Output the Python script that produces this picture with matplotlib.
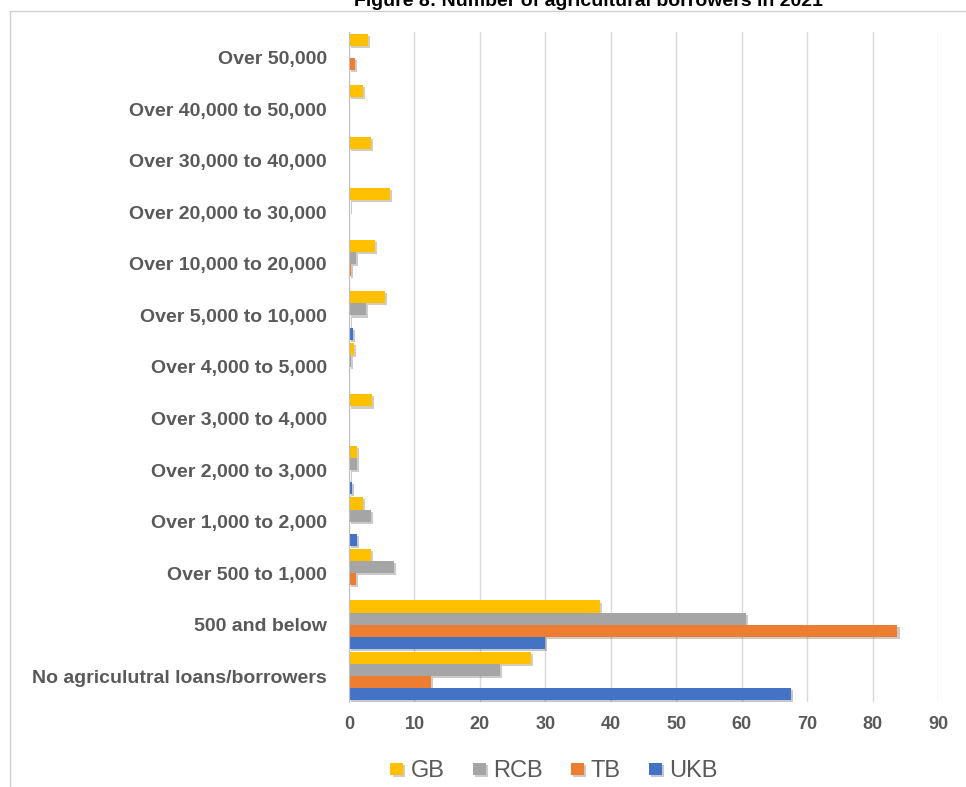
import numpy as np
import matplotlib
matplotlib.use("Agg")
import matplotlib.pyplot as plt
import matplotlib.patheffects as pe
from matplotlib.patches import Rectangle

plt.rcParams['font.family'] = ['Liberation Sans', 'DejaVu Sans']

# categories top to bottom as in the chart
categories = ["Over 50,000", "Over 40,000 to 50,000", "Over 30,000 to 40,000",
              "Over 20,000 to 30,000", "Over 10,000 to 20,000", "Over 5,000 to 10,000",
              "Over 4,000 to 5,000", "Over 3,000 to 4,000", "Over 2,000 to 3,000",
              "Over 1,000 to 2,000", "Over 500 to 1,000", "500 and below",
              "No agriculutral loans/borrowers"]
gb = [2.9, 2.1, 3.4, 6.2, 4.0, 5.5, 0.8, 3.5, 1.2, 2.1, 3.4, 38.4, 27.8]
rcb = [0, 0, 0, 0.2, 1.0, 2.6, 0.3, 0, 1.2, 3.4, 6.9, 60.6, 23.1]
tb = [0.9, 0, 0, 0, 0.3, 0.2, 0, 0, 0.2, 0, 1.0, 83.8, 12.5]
ukb = [0, 0, 0, 0, 0, 0.6, 0, 0, 0.5, 1.2, 0, 30.0, 67.5]
series = ["GB", "RCB", "TB", "UKB"]
colors = ["#FFC000", "#A5A5A5", "#ED7D31", "#4472C4"]
xticks = [0, 10, 20, 30, 40, 50, 60, 70, 80, 90]

W, H = 966, 787
fig = plt.figure(figsize=(W / 100, H / 100), dpi=100)

# frame around the chart
fig.patches.append(Rectangle((10 / W, -0.01), 1.0, 1 - 11 / H + 0.01, transform=fig.transFigure,
                             fill=False, edgecolor="#D0D0D0", linewidth=1))

# title, cut off at the top like in the picture
fig.text(588 / W, 1 - 6 / H, "Figure 8: Number of agricultural borrowers in 2021",
         ha="center", va="baseline", fontsize=14, fontweight="bold", color="black")

ax = fig.add_axes([349 / W, 1 - 702 / H, (938 - 349) / W, (702 - 32) / H])

y = np.arange(len(categories))
h = 0.235
shadow = [pe.SimplePatchShadow(offset=(1.5, -1.5), alpha=0.25), pe.Normal()]
for i, (name, vals, c) in enumerate(zip(series, [gb, rcb, tb, ukb], colors)):
    bars = ax.barh(y + (i - 1.5) * h, vals, height=h, color=c, label=name, zorder=3)
    for b in bars:
        b.set_path_effects(shadow)

ax.set_ylim(len(categories) - 0.5, -0.5)
ax.set_xlim(0, 90)
ax.set_xticks(xticks)
ax.set_yticks(y)
ax.set_yticklabels(categories)
ax.tick_params(axis="y", length=0, pad=16, labelsize=14, labelcolor="#595959")
ax.tick_params(axis="x", length=0, pad=10, labelsize=13, labelcolor="#595959")
for lab in ax.get_xticklabels() + ax.get_yticklabels():
    lab.set_fontweight("bold")

ax.grid(axis="x", color="#D9D9D9", linewidth=1, zorder=0)
for s in ["top", "right", "bottom"]:
    ax.spines[s].set_visible(False)
ax.spines["left"].set_color("#BFBFBF")
ax.spines["left"].set_zorder(4)

fig.legend(loc="center", bbox_to_anchor=(554 / W, 1 - 771 / H), ncol=4, frameon=False,
           fontsize=17, labelcolor="#595959", handlelength=0.55, handleheight=0.4,
           handletextpad=0.3, columnspacing=1.2)

fig.savefig("out.png", dpi=100)
